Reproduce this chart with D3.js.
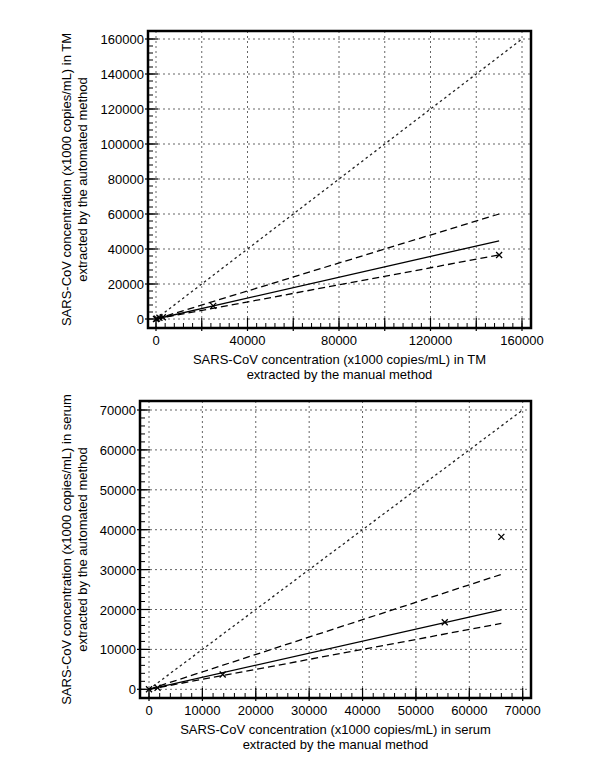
<!DOCTYPE html>
<html>
<head>
<meta charset="utf-8">
<script src="https://cdn.jsdelivr.net/npm/d3@7"></script>
<style>
  body { margin: 0; background: #fff; }
  svg { display: block; }
  text { font-family: "Liberation Sans", Arial, sans-serif; fill: #000; }
</style>
</head>
<body>
<svg id="chart" width="600" height="776"></svg>
<script>
// --- data: transport medium (TM) panel ---
const tmManual = [0, 400, 1500, 3000, 25000, 150000];
const tmAuto = [0, 200, 700, 1000, 7500, 36600];
const tmLineX = [0, 150000];
const tmFit = [0, 44700];
const tmUpper = [0, 60000];
const tmLower = [0, 36600];
const tmIdentity = [0, 160000];
const tmXTicks = [0, 40000, 80000, 120000, 160000];
const tmYTicks = [0, 20000, 40000, 60000, 80000, 100000, 120000, 140000, 160000];

// --- data: serum panel ---
const serumManual = [0, 1600, 13800, 55400, 66000];
const serumAuto = [0, 400, 3700, 16800, 38200];
const serumLineX = [0, 66000];
const serumFit = [0, 19900];
const serumUpper = [0, 28800];
const serumLower = [0, 16500];
const serumIdentity = [0, 70000];
const serumXTicks = [0, 10000, 20000, 30000, 40000, 50000, 60000, 70000];
const serumYTicks = [0, 10000, 20000, 30000, 40000, 50000, 60000, 70000];

const svg = d3.select('#chart');

function drawPanel(p) {
  const g = svg.append('g');
  const x = d3.scaleLinear().domain([0, p.max]).range([p.x0, p.x1]);
  const y = d3.scaleLinear().domain([0, p.max]).range([p.y0, p.y1]);
  const f = p.frame; // left, top, right, bottom

  // grid
  const grid = d3.range(0, p.max + 1, p.gridStep);
  g.selectAll('.gx').data(grid).join('line')
    .attr('x1', d => x(d)).attr('x2', d => x(d))
    .attr('y1', f.top).attr('y2', f.bottom)
    .attr('stroke', '#666').attr('stroke-width', 1).attr('stroke-dasharray', '2,3');
  g.selectAll('.gy').data(grid).join('line')
    .attr('y1', d => y(d)).attr('y2', d => y(d))
    .attr('x1', f.left).attr('x2', f.right)
    .attr('stroke', '#666').attr('stroke-width', 1).attr('stroke-dasharray', '2,3');

  // minor ticks
  const minor = d3.range(0, p.max + 1, p.minorStep);
  g.selectAll('.mx').data(minor).join('line')
    .attr('x1', d => x(d)).attr('x2', d => x(d))
    .attr('y1', f.bottom).attr('y2', f.bottom - 5)
    .attr('stroke', '#000');
  g.selectAll('.my').data(minor).join('line')
    .attr('y1', d => y(d)).attr('y2', d => y(d))
    .attr('x1', f.left).attr('x2', f.left + 5)
    .attr('stroke', '#000');

  // major ticks
  g.selectAll('.Mx').data(p.xMajor).join('line')
    .attr('x1', d => x(d)).attr('x2', d => x(d))
    .attr('y1', f.bottom + 3).attr('y2', f.bottom - 10)
    .attr('stroke', '#000').attr('stroke-width', 1.2);
  g.selectAll('.My').data(p.yTicks).join('line')
    .attr('y1', d => y(d)).attr('y2', d => y(d))
    .attr('x1', f.left - 3).attr('x2', f.left + 10)
    .attr('stroke', '#000').attr('stroke-width', 1.2);

  // tick labels
  g.selectAll('.lx').data(p.xTicks).join('text')
    .attr('x', d => x(d)).attr('y', f.bottom + 17)
    .attr('text-anchor', 'middle').attr('font-size', 13)
    .text(d => d);
  g.selectAll('.ly').data(p.yTicks).join('text')
    .attr('x', f.left - 4).attr('y', d => y(d) + 5)
    .attr('text-anchor', 'end').attr('font-size', 13)
    .text(d => d);

  // lines
  const line = d3.line().x(d => x(d[0])).y(d => y(d[1]));
  g.append('path').attr('d', line(p.identity.map(v => [v, v])))
    .attr('fill', 'none').attr('stroke', '#222').attr('stroke-width', 1.3)
    .attr('stroke-dasharray', '2.5,3');
  [p.upper, p.lower].forEach(ys => {
    g.append('path').attr('d', line(p.lineX.map((v, i) => [v, ys[i]])))
      .attr('fill', 'none').attr('stroke', '#000').attr('stroke-width', 1.3)
      .attr('stroke-dasharray', '7,4');
  });
  g.append('path').attr('d', line(p.lineX.map((v, i) => [v, p.fit[i]])))
    .attr('fill', 'none').attr('stroke', '#000').attr('stroke-width', 1.3);

  // points
  const pts = p.px.map((v, i) => [x(v), y(p.py[i])]);
  g.selectAll('.pt').data(pts).join('path')
    .attr('d', d => `M${d[0] - 3},${d[1] - 3}L${d[0] + 3},${d[1] + 3}M${d[0] - 3},${d[1] + 3}L${d[0] + 3},${d[1] - 3}`)
    .attr('stroke', '#000').attr('stroke-width', 1.3);

  // frame
  g.append('rect')
    .attr('x', f.left).attr('y', f.top)
    .attr('width', f.right - f.left).attr('height', f.bottom - f.top)
    .attr('fill', 'none').attr('stroke', '#000').attr('stroke-width', 2.5);

  // axis titles
  const cx = (f.left + f.right) / 2;
  g.append('text').attr('x', cx).attr('y', f.bottom + 36)
    .attr('text-anchor', 'middle').attr('font-size', 13).text(p.xTitle[0]);
  g.append('text').attr('x', cx).attr('y', f.bottom + 51)
    .attr('text-anchor', 'middle').attr('font-size', 13).text(p.xTitle[1]);
  const cy = (f.top + f.bottom) / 2;
  g.append('text').attr('transform', `translate(${p.yTitleX},${cy}) rotate(-90)`)
    .attr('text-anchor', 'middle').attr('font-size', 13).text(p.yTitle[0]);
  g.append('text').attr('transform', `translate(${p.yTitleX + 16},${cy}) rotate(-90)`)
    .attr('text-anchor', 'middle').attr('font-size', 13).text(p.yTitle[1]);
}

drawPanel({
  max: 160000, x0: 156, x1: 522, y0: 319, y1: 39,
  frame: { left: 148, top: 31, right: 531, bottom: 328 },
  gridStep: 20000, minorStep: 4000,
  xMajor: d3.range(0, 160001, 20000), xTicks: tmXTicks, yTicks: tmYTicks,
  px: tmManual, py: tmAuto, lineX: tmLineX, fit: tmFit, upper: tmUpper, lower: tmLower,
  identity: tmIdentity,
  xTitle: ['SARS-CoV concentration (x1000 copies/mL) in TM', 'extracted by the manual method'],
  yTitle: ['SARS-CoV concentration (x1000 copies/mL) in TM', 'extracted by the automated method'],
  yTitleX: 71
});

drawPanel({
  max: 70000, x0: 149, x1: 522.7, y0: 689.3, y1: 410,
  frame: { left: 140, top: 401, right: 531, bottom: 698 },
  gridStep: 10000, minorStep: 2000,
  xMajor: serumXTicks, xTicks: serumXTicks, yTicks: serumYTicks,
  px: serumManual, py: serumAuto, lineX: serumLineX, fit: serumFit, upper: serumUpper, lower: serumLower,
  identity: serumIdentity,
  xTitle: ['SARS-CoV concentration (x1000 copies/mL) in serum', 'extracted by the manual method'],
  yTitle: ['SARS-CoV concentration (x1000 copies/mL) in serum', 'extracted by the automated method'],
  yTitleX: 71
});
</script>
</body>
</html>
